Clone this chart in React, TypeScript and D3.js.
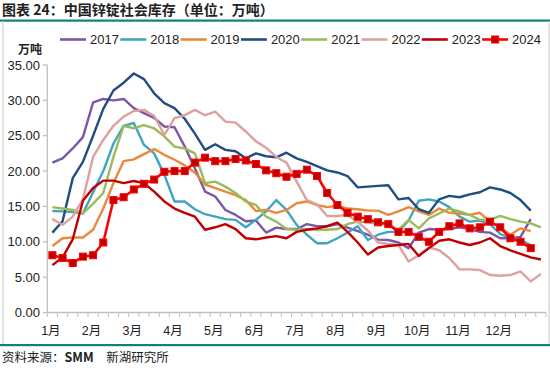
import React from "react";
import * as d3 from "d3";

const WIDTH = 550;
const HEIGHT = 372;

// weekly data, 49 week slots, labels every 4 weeks
const weekCount = 49;
const monthLabels = ["1月", "2月", "3月", "4月", "5月", "6月", "7月", "8月", "9月", "10月", "11月", "12月"];
const yTicks = [0, 5, 10, 15, 20, 25, 30, 35];
const years = ["2017", "2018", "2019", "2020", "2021", "2022", "2023", "2024"];
const colors = ["#7B57A6", "#3FA6C2", "#E8893C", "#1F4E80", "#9BBB59", "#DFA0A0", "#C00000", "#FF0000"];

const s2017 = [21.2, 21.8, 23.2, 24.8, 29.7, 30.2, 30.0, 30.2, 28.9, 28.2, 27.5, 26.3, 26.2, 23.5, 20.4, 17.1, 16.4, 14.5, 13.8, 12.9, 13.0, 11.3, 12.0, 11.8, 11.8, 12.5, 12.2, 12.2, 12.5, 12.0, 11.5, 11.0, 10.3, 10.25, 9.9, 9.1, 11.3, 11.8, 11.7, 11.8, 12.05, 11.8, 11.4, 11.3, 10.5, 10.5, 10.7, 13.2];
const s2018 = [14.35, 14.3, 14.2, 14.0, 17.0, 20.0, 23.9, 26.4, 26.8, 23.7, 22.5, 19.5, 15.7, 15.7, 14.6, 13.9, 13.55, 13.2, 13.1, 12.05, 13.1, 14.3, 15.9, 14.5, 12.4, 11.0, 9.8, 9.8, 10.5, 11.3, 12.2, 10.25, 11.0, 11.4, 11.4, 13.0, 15.8, 16.0, 15.7, 14.9, 13.55, 12.85, 13.0, 12.5, 11.1, 10.5, 10.25, 9.55];
const s2019 = [9.4, 10.5, 10.6, 10.6, 11.7, 14.7, 18.3, 21.4, 21.65, 22.4, 23.1, 22.3, 21.6, 20.8, 19.8, 18.1, 17.6, 17.1, 16.6, 15.9, 14.35, 14.5, 14.1, 14.5, 15.45, 15.7, 15.2, 14.9, 15.1, 14.7, 14.6, 14.4, 14.4, 13.8, 14.3, 14.9, 14.3, 13.8, 14.7, 14.1, 14.0, 13.8, 14.1, 12.85, 12.05, 11.0, 11.9, 11.5];
const s2020 = [11.3, 12.9, 19.0, 21.3, 25.0, 28.8, 31.4, 32.5, 33.8, 33.0, 31.0, 29.6, 28.9, 27.4, 25.3, 23.0, 23.8, 23.0, 22.8, 21.8, 22.5, 22.1, 21.95, 22.6, 21.8, 21.3, 20.7, 20.1, 19.8, 19.3, 17.7, 17.8, 17.9, 18.0, 16.0, 16.2, 14.6, 14.1, 16.0, 16.5, 16.3, 16.7, 17.0, 17.7, 17.4, 16.9, 15.9, 14.4];
const s2021 = [14.9, 14.7, 14.5, 14.0, 15.4, 16.9, 22.0, 26.4, 26.05, 26.5, 26.05, 24.9, 23.45, 23.2, 22.5, 18.3, 18.5, 17.8, 16.9, 15.7, 15.2, 13.55, 12.85, 11.8, 11.7, 11.8, 11.7, 11.7, 11.8, 12.5, 12.85, 12.75, 12.6, 12.4, 11.7, 13.1, 11.9, 13.3, 14.0, 14.7, 14.3, 13.8, 13.1, 13.1, 13.65, 13.2, 12.85, 12.6, 12.05];
const s2022 = [13.2, 12.4, 13.55, 16.0, 22.0, 24.4, 26.4, 27.7, 28.5, 28.65, 27.8, 25.1, 27.5, 27.9, 28.65, 27.9, 28.4, 27.0, 26.85, 25.6, 24.2, 23.3, 22.0, 21.2, 18.5, 15.9, 15.3, 13.65, 13.65, 13.8, 12.8, 11.6, 9.9, 9.7, 9.55, 7.2, 8.1, 9.2, 8.8, 7.7, 6.1, 6.1, 6.0, 5.3, 5.2, 5.3, 5.8, 4.4, 5.45];
const s2023 = [6.7, 7.8, 10.35, 15.8, 17.6, 18.65, 18.65, 18.3, 18.6, 18.3, 17.1, 15.7, 14.7, 14.1, 13.55, 11.7, 12.05, 12.5, 11.8, 10.5, 10.35, 10.6, 10.8, 10.5, 11.4, 11.7, 11.9, 12.2, 12.7, 11.4, 9.9, 8.2, 9.2, 9.4, 9.55, 9.7, 8.0, 9.1, 10.15, 10.35, 9.9, 9.55, 9.9, 10.5, 9.4, 8.8, 8.3, 7.8, 7.5];
const s2024 = [8.1, 7.7, 7.0, 7.9, 8.1, 9.9, 15.9, 16.3, 17.4, 18.2, 18.8, 19.9, 20.0, 20.0, 21.2, 21.9, 21.4, 21.4, 21.7, 21.5, 21.0, 20.1, 19.7, 19.2, 19.6, 20.2, 19.3, 16.9, 15.2, 14.1, 13.55, 13.2, 12.75, 12.5, 11.4, 11.4, 10.7, 10.0, 11.4, 12.2, 12.6, 11.9, 12.05, 12.85, 12.05, 10.5, 10.0, 9.1];

const seriesValues = [s2017, s2018, s2019, s2020, s2021, s2022, s2023, s2024];

const axisLeft = 47.3;
const axisRight = 546;
const plotTop = 65;
const plotBottom = 312.5;

const App = () => {
  const weeks = d3.range(weekCount);
  const x = d3.scalePoint<number>().domain(weeks).range([axisLeft, axisRight]).padding(0.5);
  const step = x.step();
  const y = d3.scaleLinear().domain([0, 35]).range([plotBottom, plotTop]);

  const line = d3
    .line<number>()
    .x((_, i) => x(i) as number)
    .y((d) => y(d));

  const tickXs = d3.range(weekCount + 1).map((i) => axisLeft + i * step);
  const legendX0 = 60;
  const legendStep = 60.3;
  const legendY = 39.5;

  return (
    <svg
      width={WIDTH}
      height={HEIGHT}
      style={{ position: "absolute", left: 0, top: 0, background: "#fff" }}
      fontFamily="'Liberation Sans', Arial, sans-serif"
    >
      {/* title */}
      <text x={2} y={15} fontSize={14} fontWeight="bold" fill="#222" fontFamily="'Noto Sans CJK SC', sans-serif">
        图表 24：中国锌锭社会库存（单位：万吨）
      </text>
      <rect x={0} y={19.5} width={WIDTH} height={2.2} fill="#12807B" />
      <line x1={3} y1={21} x2={3} y2={344} stroke="#C8C8C8" strokeWidth={1} />
      <line x1={549} y1={21} x2={549} y2={344} stroke="#C8C8C8" strokeWidth={1} />
      <rect x={0} y={344} width={WIDTH} height={2.2} fill="#12807B" />
      <text x={2} y={362} fontSize={12.5} fill="#222" fontFamily="'Noto Sans CJK SC', sans-serif">
        资料来源：<tspan fontWeight="bold">SMM</tspan>　新湖研究所
      </text>

      {/* unit */}
      <text x={30} y={54} fontSize={12} fontWeight="bold" textAnchor="middle" fill="#222" fontFamily="'Noto Sans CJK SC', sans-serif">
        万吨
      </text>

      {/* legend */}
      {years.map((yr, k) => {
        const lx = legendX0 + k * legendStep;
        return (
          <g key={yr}>
            <line x1={lx} y1={legendY} x2={lx + 26} y2={legendY} stroke={colors[k]} strokeWidth={2.6} />
            {k === 7 && (
              <rect x={lx + 13 - 3.5} y={legendY - 3.5} width={7} height={7} fill="#C00000" stroke="#FF0000" strokeWidth={1} />
            )}
            <text x={lx + 30} y={legendY + 4.5} fontSize={13} fill="#222">
              {yr}
            </text>
          </g>
        );
      })}

      {/* y axis */}
      <line x1={axisLeft} y1={plotTop} x2={axisLeft} y2={plotBottom} stroke="#BFBFBF" strokeWidth={1.3} />
      {yTicks.map((t) => (
        <g key={t}>
          <line x1={axisLeft - 4.5} y1={y(t)} x2={axisLeft} y2={y(t)} stroke="#BFBFBF" strokeWidth={1.3} />
          <text x={40} y={y(t) + 4.5} fontSize={13} textAnchor="end" fill="#222">
            {d3.format(".2f")(t)}
          </text>
        </g>
      ))}

      {/* x axis */}
      <line x1={axisLeft} y1={plotBottom} x2={axisRight} y2={plotBottom} stroke="#BFBFBF" strokeWidth={1.3} />
      {tickXs.map((tx, i) => (
        <line key={i} x1={tx} y1={plotBottom} x2={tx} y2={plotBottom + 4.5} stroke="#BFBFBF" strokeWidth={1} />
      ))}
      {monthLabels.map((m, k) => (
        <text
          key={m}
          x={(x(k * 4) as number) - 1.5}
          y={plotBottom + 22}
          fontSize={12.5}
          textAnchor="middle"
          fill="#222"
          fontFamily="'Liberation Sans', 'Noto Sans CJK SC', sans-serif"
        >
          {m}
        </text>
      ))}

      {/* series */}
      {seriesValues.map((vals, k) => (
        <path
          key={years[k]}
          d={line(vals) || ""}
          fill="none"
          stroke={colors[k]}
          strokeWidth={k === 7 ? 2.6 : 2.4}
          strokeLinejoin="round"
        />
      ))}
      {s2024.map((v, i) => (
        <rect
          key={i}
          x={(x(i) as number) - 3.5}
          y={y(v) - 3.5}
          width={7}
          height={7}
          fill="#C00000"
          stroke="#FF0000"
          strokeWidth={1}
        />
      ))}
    </svg>
  );
};

export default App;
